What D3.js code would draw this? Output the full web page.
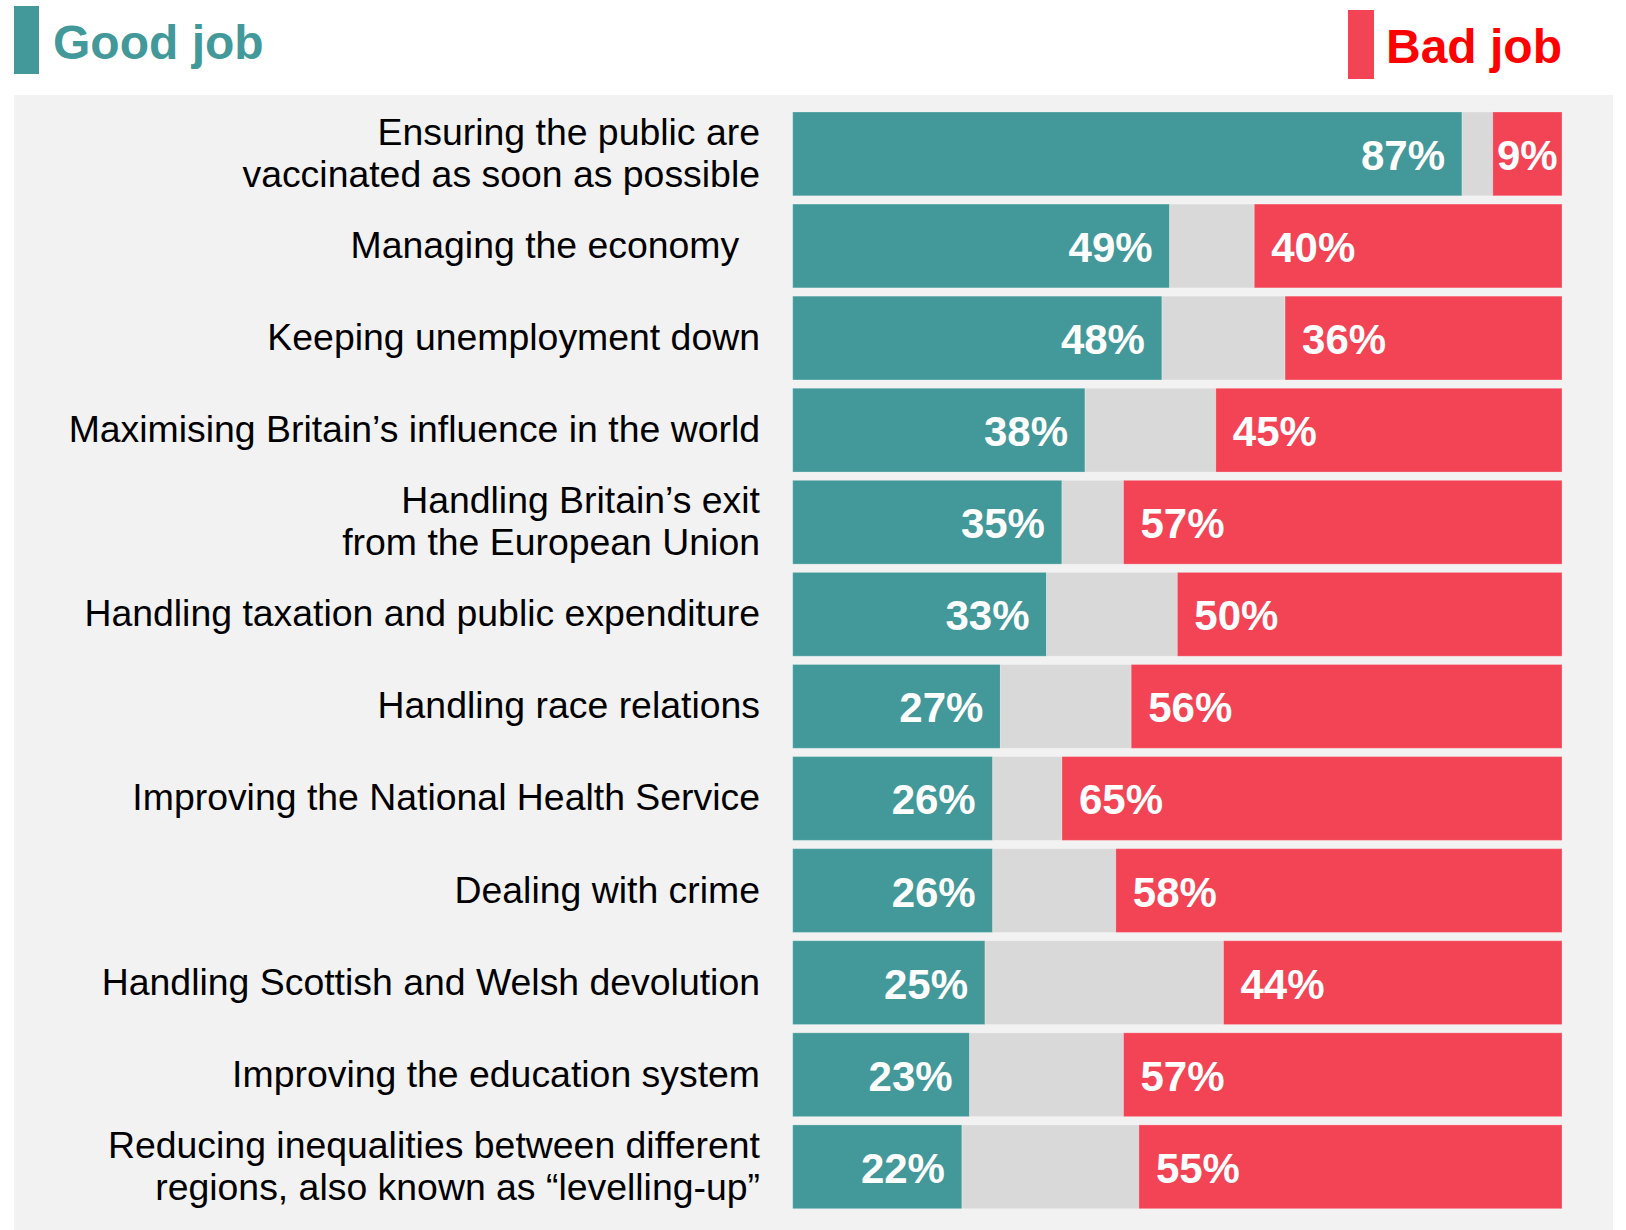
<!DOCTYPE html>
<html>
<head>
<meta charset="utf-8">
<script src="https://cdn.jsdelivr.net/npm/d3@7"></script>
<style>
  body { margin: 0; background: #fff; }
  svg { display: block; font-family: "Liberation Sans", Arial, sans-serif; }
</style>
</head>
<body>
<svg id="chart" width="1626" height="1230"></svg>
<script>
// Survey items (label lines) and shares saying good / bad job
var categories = [
  ["Ensuring the public are", "vaccinated as soon as possible"],
  ["Managing the economy  "],
  ["Keeping unemployment down"],
  ["Maximising Britain\u2019s influence in the world"],
  ["Handling Britain\u2019s exit", "from the European Union"],
  ["Handling taxation and public expenditure"],
  ["Handling race relations"],
  ["Improving the National Health Service"],
  ["Dealing with crime"],
  ["Handling Scottish and Welsh devolution"],
  ["Improving the education system"],
  ["Reducing inequalities between different", "regions, also known as \u201clevelling-up\u201d"]
];
var goodJob = [87, 49, 48, 38, 35, 33, 27, 26, 26, 25, 23, 22];
var badJob  = [ 9, 40, 36, 45, 57, 50, 56, 65, 58, 44, 57, 55];
var legendLabels = ["Good job", "Bad job"];

var teal = "#43999a", red = "#f34456", grey = "#d9d9d9";

var svg = d3.select("#chart");

var rows = categories.map(function(c, i) {
  return {id: i, lines: c, good: goodJob[i], bad: badJob[i]};
});

var x = d3.scaleLinear().domain([0, 100]).range([792.7, 1562]);
var y = d3.scaleBand()
    .domain(rows.map(function(d) { return d.id; }))
    .range([112, 1208.7])
    .paddingInner(0.09)
    .paddingOuter(0);

// grey panel behind the chart
svg.append("rect")
    .attr("x", 14).attr("y", 95)
    .attr("width", 1613 - 14).attr("height", 1230 - 95)
    .attr("fill", "#f2f2f2");

// legend
var legend = svg.append("g");
legend.append("rect")
    .attr("x", 14).attr("y", 6).attr("width", 25).attr("height", 68)
    .attr("fill", teal);
legend.append("text")
    .attr("x", 53).attr("y", 59)
    .attr("font-size", 48).attr("font-weight", "bold")
    .attr("fill", teal)
    .text(legendLabels[0]);
legend.append("rect")
    .attr("x", 1348).attr("y", 10).attr("width", 26).attr("height", 69)
    .attr("fill", red);
legend.append("text")
    .attr("x", x(100)).attr("y", 63)
    .attr("text-anchor", "end")
    .attr("font-size", 48).attr("font-weight", "bold")
    .attr("fill", "#ff0000")
    .text(legendLabels[1]);

var row = svg.append("g").selectAll("g")
    .data(rows)
  .enter().append("g")
    .attr("transform", function(d) { return "translate(0," + y(d.id) + ")"; });

var bh = y.bandwidth();

// good / don't know / bad segments
row.append("rect")
    .attr("x", x(0))
    .attr("width", function(d) { return x(d.good) - x(0); })
    .attr("height", bh)
    .attr("fill", teal);

row.append("rect")
    .attr("x", function(d) { return x(d.good); })
    .attr("width", function(d) { return x(100 - d.bad) - x(d.good); })
    .attr("height", bh)
    .attr("fill", grey);

row.append("rect")
    .attr("x", function(d) { return x(100 - d.bad); })
    .attr("width", function(d) { return x(100) - x(100 - d.bad); })
    .attr("height", bh)
    .attr("fill", red);

row.selectAll("rect")
    .attr("stroke", "rgba(255,255,255,0.25)")
    .attr("stroke-width", 1);

// value labels
row.append("text")
    .attr("x", function(d) { return x(d.good) - 17; })
    .attr("y", bh / 2)
    .attr("dy", "0.38em")
    .attr("text-anchor", "end")
    .attr("font-size", 42).attr("font-weight", "bold")
    .attr("fill", "#fff")
    .text(function(d) { return d.good + "%"; });

row.append("text")
    .attr("x", function(d) {
      var w = x(100) - x(100 - d.bad);
      return w < 100 ? x(100 - d.bad) + w / 2 : x(100 - d.bad) + 17;
    })
    .attr("y", bh / 2)
    .attr("dy", "0.38em")
    .attr("text-anchor", function(d) { return x(100) - x(100 - d.bad) < 100 ? "middle" : "start"; })
    .attr("font-size", 42).attr("font-weight", "bold")
    .attr("fill", "#fff")
    .text(function(d) { return d.bad + "%"; });

// category labels, one or two lines
row.append("text")
    .attr("x", 760)
    .attr("text-anchor", "end")
    .attr("font-size", 37.4)
    .attr("fill", "#000")
    .style("white-space", "pre")
  .selectAll("tspan")
    .data(function(d) { return d.lines.map(function(l, i) { return {t: l, i: i, n: d.lines.length}; }); })
  .enter().append("tspan")
    .attr("x", 760)
    .attr("y", function(l) { return bh / 2 + 12 + (l.i - (l.n - 1) / 2) * 42; })
    .text(function(l) { return l.t; });
</script>
</body>
</html>
